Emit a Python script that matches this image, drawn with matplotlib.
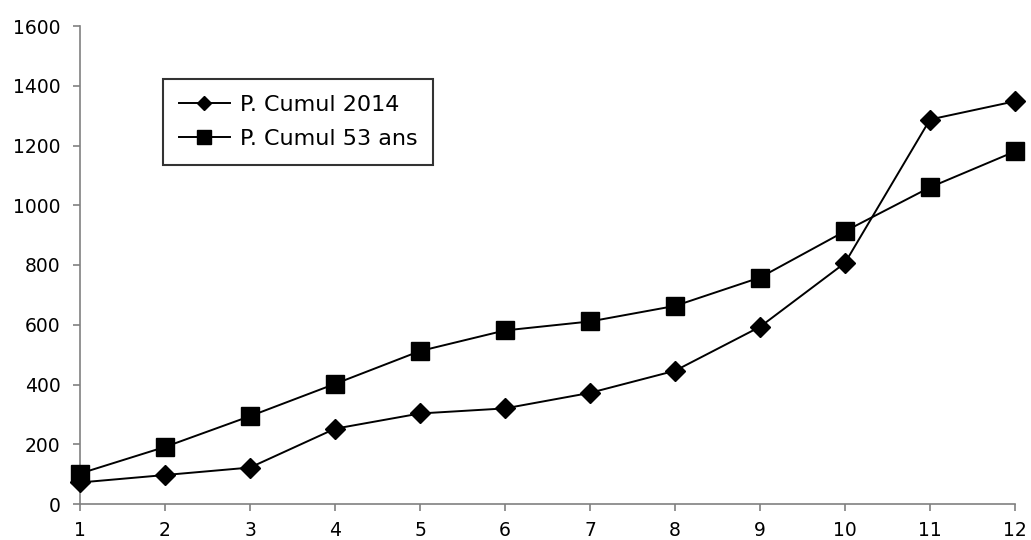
import matplotlib
matplotlib.use("Agg")
import matplotlib.pyplot as plt

months = [1, 2, 3, 4, 5, 6, 7, 8, 9, 10, 11, 12]
cumul_2014 = [72, 97, 122, 252, 303, 320, 372, 446, 593, 807, 1287, 1348]
cumul_53ans = [102, 191, 294, 402, 512, 581, 611, 663, 758, 913, 1060, 1180]
label_2014 = "P. Cumul 2014"
label_53 = "P. Cumul 53 ans"
yticks = [0, 200, 400, 600, 800, 1000, 1200, 1400, 1600]

plt.rcParams['font.family'] = ['DejaVu Sans']

fig = plt.figure(figsize=(10.31, 5.4), dpi=100)
ax = fig.add_axes([80/1031, 1-504/540, (1015-80)/1031, (504-26)/540])

ax.plot(months, cumul_2014, color='black', lw=1.4, marker='D', markersize=10,
        label=label_2014, clip_on=False, zorder=3)
ax.plot(months, cumul_53ans, color='black', lw=1.4, marker='s', markersize=13,
        label=label_53, clip_on=False, zorder=3)

ax.set_xlim(1, 12)
ax.set_ylim(0, 1600)
ax.set_xticks(months)
ax.set_yticks(yticks)
for s in ['top', 'right']:
    ax.spines[s].set_visible(False)
for s in ['left', 'bottom']:
    ax.spines[s].set_color('#808080')
    ax.spines[s].set_linewidth(1.2)
ax.tick_params(axis='both', direction='out', length=5, width=1.2, color='#808080',
               labelsize=13.5, labelcolor='black')
ax.tick_params(axis='y', pad=9)
ax.tick_params(axis='x', pad=7)

leg = ax.legend(loc='upper left', bbox_to_anchor=((163-80)/935, (504-79)/478),
                borderaxespad=0, frameon=True, fancybox=False, fontsize=16,
                handlelength=2.3, handletextpad=0.45, borderpad=0.7,
                labelspacing=0.65, markerscale=0.75)
leg.get_frame().set_edgecolor('black')
leg.get_frame().set_linewidth(1.5)

fig.savefig('out.png', dpi=100)
